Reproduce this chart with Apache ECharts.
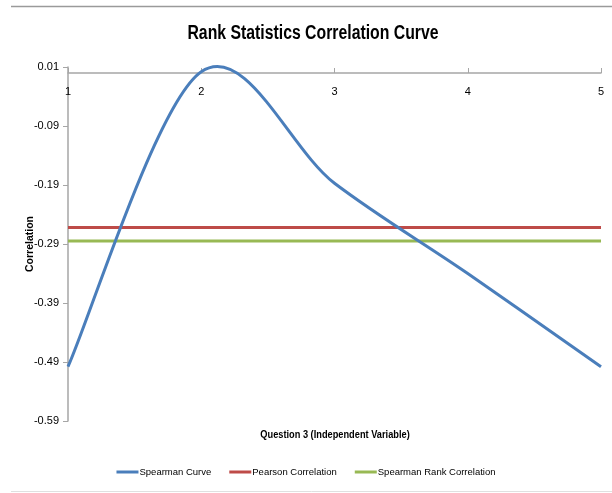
<!DOCTYPE html>
<html>
<head>
<meta charset="utf-8">
<script src="https://cdn.jsdelivr.net/npm/echarts@6/dist/echarts.min.js"></script>
<style>
html,body{margin:0;padding:0;background:#fff;}
#c{width:612px;height:493px;}
</style>
</head>
<body>
<div id="c"></div>
<script>
const xValues = [1, 2, 3, 4, 5];
const spearmanCurve = [-0.498, 0.002, -0.187, -0.34, -0.498];
const pearsonCorrelation = [-0.262, -0.262, -0.262, -0.262, -0.262];
const spearmanRankCorrelation = [-0.285, -0.285, -0.285, -0.285, -0.285];
const seriesNames = ['Spearman Curve', 'Pearson Correlation', 'Spearman Rank Correlation'];
const chartTitle = 'Rank Statistics Correlation Curve';
const xAxisTitle = 'Question 3 (Independent Variable)';
const yAxisTitle = 'Correlation';

const FONT = '"Liberation Sans",Arial,sans-serif';
const pairs = arr => xValues.map((x, i) => [x, arr[i]]);

// Smoothed curve (Catmull-Rom style, like the spreadsheet's smoothed line),
// with every point placed through the axis scales via api.coord.
function renderSmooth(params, api) {
  if (params.dataIndex !== 0) return null;
  const pts = xValues.map((x, i) => api.coord([x, spearmanCurve[i]]));
  const n = pts.length;
  let d = 'M' + pts[0][0] + ' ' + pts[0][1];
  for (let i = 0; i < n - 1; i++) {
    const p0 = pts[Math.max(i - 1, 0)], p1 = pts[i], p2 = pts[i + 1], p3 = pts[Math.min(i + 2, n - 1)];
    const c1 = [p1[0] + (p2[0] - p0[0]) / 6, p1[1] + (p2[1] - p0[1]) / 6];
    const c2 = [p2[0] - (p3[0] - p1[0]) / 6, p2[1] - (p3[1] - p1[1]) / 6];
    d += ' C' + c1[0] + ' ' + c1[1] + ' ' + c2[0] + ' ' + c2[1] + ' ' + p2[0] + ' ' + p2[1];
  }
  return {
    type: 'path',
    shape: { pathData: d },
    style: { fill: null, stroke: '#4a7ebb', lineWidth: 3, lineJoin: 'round' }
  };
}

const chart = echarts.init(document.getElementById('c'));
chart.setOption({
  animation: false,
  backgroundColor: '#fff',
  textStyle: { fontFamily: FONT },
  legend: {
    data: seriesNames, bottom: 11, left: 'center', icon: 'rect',
    itemWidth: 22, itemHeight: 3, itemGap: 18,
    textStyle: { fontFamily: FONT, fontSize: 9.5, color: '#000', padding: [0, 0, 0, -4] }
  },
  grid: { left: 68, right: 11, top: 67, bottom: 72 },
  xAxis: {
    type: 'value', min: 1, max: 5, interval: 1,
    position: 'top', offset: -6,
    axisLine: { onZero: false, lineStyle: { color: '#a6a6a6', width: 1.5 } },
    axisTick: { inside: false, length: 5, lineStyle: { color: '#a6a6a6' } },
    axisLabel: { inside: true, color: '#000', fontSize: 11, margin: 13, fontFamily: FONT },
    splitLine: { show: false }
  },
  yAxis: {
    type: 'value', min: -0.59, max: 0.01, interval: 0.1,
    name: yAxisTitle, nameLocation: 'middle', nameGap: 32, nameMoveOverlap: false,
    nameTextStyle: { fontFamily: FONT, fontSize: 10.5, fontWeight: 'bold', color: '#000' },
    axisLine: { show: true, lineStyle: { color: '#a6a6a6', width: 1.5 } },
    axisTick: { show: true, length: 5, lineStyle: { color: '#a6a6a6' } },
    axisLabel: { color: '#000', fontSize: 11, margin: 9, fontFamily: FONT,
      formatter: v => (Math.abs(v) < 1e-9 ? 0 : v).toFixed(2) },
    splitLine: { show: false }
  },
  series: [
    { name: seriesNames[0], type: 'custom', data: pairs(spearmanCurve), renderItem: renderSmooth,
      itemStyle: { color: '#4a7ebb' }, z: 3, clip: false },
    { name: seriesNames[1], type: 'line', data: pairs(pearsonCorrelation),
      showSymbol: false, lineStyle: { color: '#be4b48', width: 3 }, itemStyle: { color: '#be4b48' }, z: 2 },
    { name: seriesNames[2], type: 'line', data: pairs(spearmanRankCorrelation),
      showSymbol: false, lineStyle: { color: '#98b954', width: 3 }, itemStyle: { color: '#98b954' }, z: 2 }
  ],
  graphic: [
    { type: 'line', shape: { x1: 11, y1: 6.5, x2: 612, y2: 6.5 }, style: { stroke: '#9a9a9a', lineWidth: 1.5 } },
    { type: 'line', shape: { x1: 11, y1: 491.5, x2: 612, y2: 491.5 }, style: { stroke: '#e0e0e0', lineWidth: 1 } },
    { type: 'text', x: 313, y: 33, scaleX: 0.79,
      style: { text: chartTitle, font: 'bold 20px ' + FONT, fill: '#000', align: 'center', verticalAlign: 'middle' } },
    { type: 'text', x: 335, y: 435, scaleX: 0.84,
      style: { text: xAxisTitle, font: 'bold 11px ' + FONT, fill: '#000', align: 'center', verticalAlign: 'middle' } }
  ]
});
</script>
</body>
</html>
